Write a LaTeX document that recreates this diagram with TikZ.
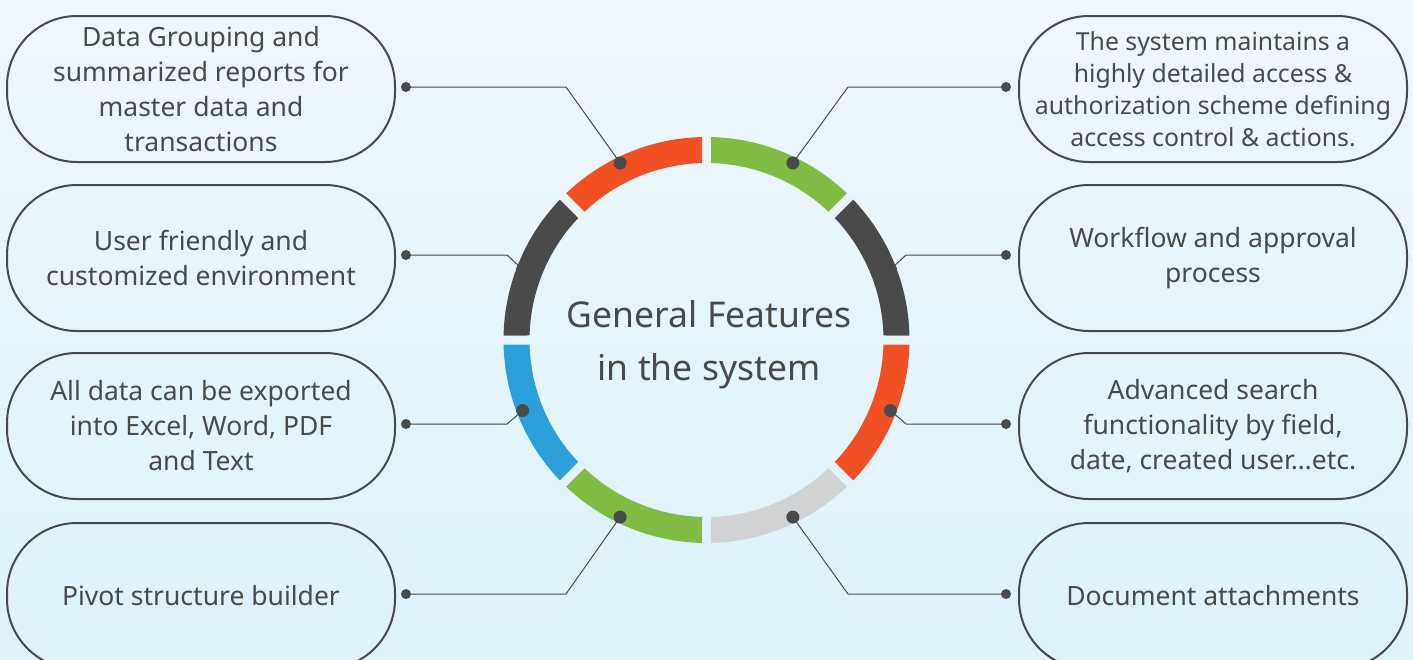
\documentclass[tikz,border=0pt]{standalone}
\usepackage{fontspec}
\setmainfont{Noto Sans}
\definecolor{bgtop}{RGB}{238,247,252}
\definecolor{bgbot}{RGB}{222,242,250}
\definecolor{ink}{RGB}{74,74,74}
\definecolor{segorange}{RGB}{240,80,36}
\definecolor{seggreen}{RGB}{128,188,68}
\definecolor{segdark}{RGB}{74,74,74}
\definecolor{segblue}{RGB}{42,159,216}
\definecolor{seglight}{RGB}{209,210,212}
\tikzset{
  featbox/.style={draw=ink, line width=2pt, rounded corners=70pt, minimum width=388pt,
    minimum height=146pt, align=center, text=ink, font=\fontsize{26.5}{35}\selectfont},
  bdot/.style={circle, fill=ink, inner sep=0pt, minimum size=10pt},
  rdot/.style={circle, fill=ink, inner sep=0pt, minimum size=13pt},
  link/.style={draw=ink, line width=1pt}
}
\begin{document}
\begin{tikzpicture}[x=1pt, y=-1pt]
    \useasboundingbox (0,0) rectangle (1413,659);
    % Background
    \shade[top color=bgtop, bottom color=bgbot] (0,0) rectangle (1413,659);

    % Ring segments
    \begin{scope}[shift={(706.5,340)}, y=1pt]
      \foreach \a/\b/\c in {90/135/segorange, 135/180/segdark, 180/225/segblue,
          225/270/seggreen, 270/315/seglight, 315/360/segorange, 0/45/segdark, 45/90/seggreen}{
        \fill[\c] (\a+1.27:203) arc[start angle=\a+1.27, end angle=\b-1.27, radius=203]
          -- (\b-1.46:177) arc[start angle=\b-1.46, end angle=\a+1.46, radius=177] -- cycle;
      }
      % dots on the ring
      \node[rdot] (r1) at (116:197) {};
      \node[rdot] (r2) at (159:197) {};
      \node[rdot] (r3) at (201:197) {};
      \node[rdot] (r4) at (244:197) {};
      \node[rdot] (s1) at (64:197) {};
      \node[rdot] (s2) at (21:197) {};
      \node[rdot] (s3) at (-21:197) {};
      \node[rdot] (s4) at (-64:197) {};
    \end{scope}
    \node[text=ink, align=center, font=\fontsize{35.5}{53}\selectfont] (title) at (709,345)
      {General Features\\in the system};

    % Left boxes
    \node[featbox] (b1) at (201,89) {Data Grouping and\\summarized reports for\\master data and\\transactions};
    \node[featbox] (b2) at (201,258) {User friendly and\\customized environment};
    \node[featbox] (b3) at (201,426) {All data can be exported\\into Excel, Word, PDF\\and Text};
    \node[featbox] (b4) at (201,596) {Pivot structure builder};
    % Right boxes
    \node[featbox, font=\fontsize{24.8}{32}\selectfont] (c1) at (1213,89)
      {The system maintains a\\highly detailed access \&\\authorization scheme defining\\access control \& actions.};
    \node[featbox] (c2) at (1213,258) {Workflow and approval\\process};
    \node[featbox] (c3) at (1213,426) {Advanced search\\functionality by field,\\date, created user…etc.};
    \node[featbox] (c4) at (1213,596) {Document attachments};

    % Box dots
    \node[bdot] (l1) at (406,87) {};
    \node[bdot] (l2) at (406,255) {};
    \node[bdot] (l3) at (406,424) {};
    \node[bdot] (l4) at (406,594) {};
    \node[bdot] (m1) at (1006,87) {};
    \node[bdot] (m2) at (1006,255) {};
    \node[bdot] (m3) at (1006,424) {};
    \node[bdot] (m4) at (1006,594) {};

    % Connectors
    \draw[link] (l1.center) -- (566,87) -- (r1.center);
    \draw[link] (l2.center) -- (507,255) -- (r2.center);
    \draw[link] (l3.center) -- (507,424) -- (r3.center);
    \draw[link] (l4.center) -- (566,594) -- (r4.center);
    \draw[link] (m1.center) -- (848,87) -- (s1.center);
    \draw[link] (m2.center) -- (906,255) -- (s2.center);
    \draw[link] (m3.center) -- (906,424) -- (s3.center);
    \draw[link] (m4.center) -- (848,594) -- (s4.center);
\end{tikzpicture}
\end{document}
